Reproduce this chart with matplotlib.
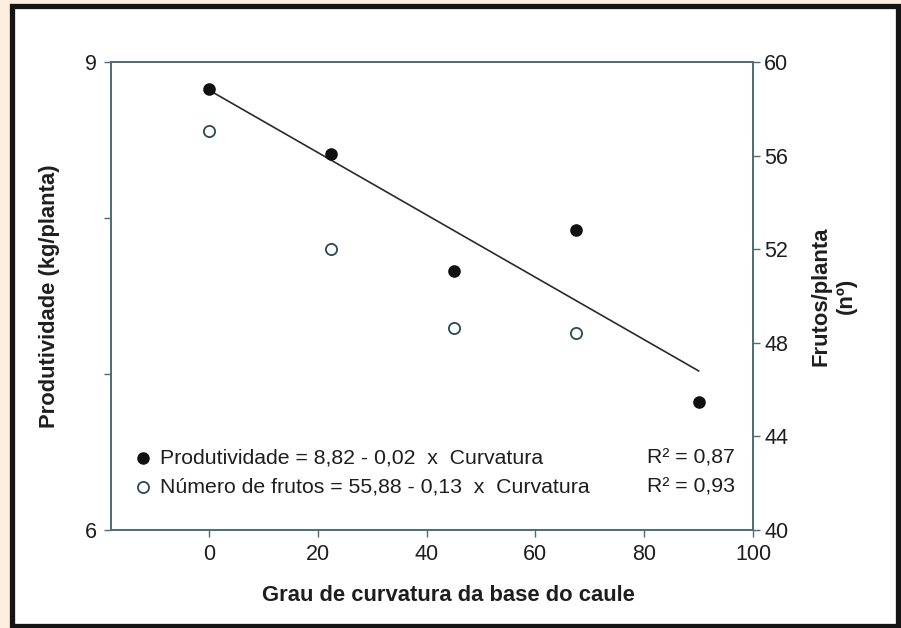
import matplotlib
matplotlib.use("Agg")
import matplotlib.pyplot as plt
from matplotlib.patches import Rectangle

plt.rcParams['font.family'] = ['Liberation Sans', 'DejaVu Sans']

x_vals = [0, 22.5, 45, 67.5, 90]
produtividade = [8.83, 8.41, 7.66, 7.92, 6.82]
x_frutos = [0, 22.5, 45, 67.5]
frutos = [57.05, 52.0, 48.63, 48.42]
fit_x = [0, 90]
fit_a, fit_b = 8.82, -0.02

xticks = [0, 20, 40, 60, 80, 100]
left_ticks = [6, 7, 8, 9]
left_ticklabels = ['6', '', '', '9']
right_ticks = [40, 44, 48, 52, 56, 60]

spine_c = '#4d6b78'
txt_c = '#1e1e1e'

fig = plt.figure(figsize=(9.01, 6.28), dpi=100)
fig.patch.set_facecolor('#fdeee0')
# white panel with black frame
fig.patches.append(Rectangle((12/901, 1-626/628), (898-12)/901, (626-6)/628,
                             transform=fig.transFigure, facecolor='white',
                             edgecolor='#151515', linewidth=3.8, zorder=-10))

ax = fig.add_axes([111/901, 1-530/628, (753-111)/901, (530-62)/628])
ax.set_facecolor('white')
ax.set_xlim(-18, 100)
ax.set_ylim(6, 9)
ax.set_xticks(xticks)
ax.set_yticks(left_ticks)
ax.set_yticklabels(left_ticklabels)
for s in ax.spines.values():
    s.set_color(spine_c)
    s.set_linewidth(1.2)
ax.tick_params(axis='both', direction='out', length=5, width=1, color=spine_c,
               labelsize=15.5, labelcolor=txt_c, pad=5)

ax2 = ax.twinx()
ax2.set_ylim(40, 60)
ax2.set_yticks(right_ticks)
for s in ax2.spines.values():
    s.set_color(spine_c)
    s.set_linewidth(1.2)
ax2.tick_params(axis='y', direction='out', length=5, width=1, color=spine_c,
                labelsize=15.5, labelcolor=txt_c, pad=3)

fy = [fit_a + fit_b * v for v in fit_x]
ax.plot(fit_x, fy, color='#2a2a2a', linewidth=1.2, zorder=2)
ax.scatter(x_vals, produtividade, s=65, color='#111111', zorder=3)
ax2.scatter(x_frutos, frutos, s=65, facecolor='white', edgecolor='#2a4a55',
            linewidth=1.3, zorder=3)

ax.set_xlabel('Grau de curvatura da base do caule', fontsize=15.8, fontweight='bold',
              color=txt_c)
ax.xaxis.set_label_coords(0.525, -0.118)
ax.set_ylabel('Produtividade (kg/planta)', fontsize=15.8, fontweight='bold',
              color=txt_c, labelpad=18)
ax2.set_ylabel('Frutos/planta\n(nº)', fontsize=15.8, fontweight='bold',
               color=txt_c, labelpad=16, linespacing=1.3)

# equation legend
ax.plot([0.05], [0.154], 'o', transform=ax.transAxes, color='#111111', ms=8)
ax.plot([0.05], [0.092], 'o', transform=ax.transAxes, mfc='white', mec='#2a4a55',
        mew=1.3, ms=8)
ax.text(0.076, 0.154, 'Produtividade = 8,82 - 0,02  x  Curvatura', transform=ax.transAxes,
        fontsize=15.3, color=txt_c, va='center')
ax.text(0.076, 0.092, 'Número de frutos = 55,88 - 0,13  x  Curvatura', transform=ax.transAxes,
        fontsize=15.3, color=txt_c, va='center')
ax.text(0.835, 0.154, 'R² = 0,87', transform=ax.transAxes, fontsize=15.3, color=txt_c, va='center')
ax.text(0.835, 0.092, 'R² = 0,93', transform=ax.transAxes, fontsize=15.3, color=txt_c, va='center')

fig.savefig('out.png', dpi=100, facecolor=fig.get_facecolor())
